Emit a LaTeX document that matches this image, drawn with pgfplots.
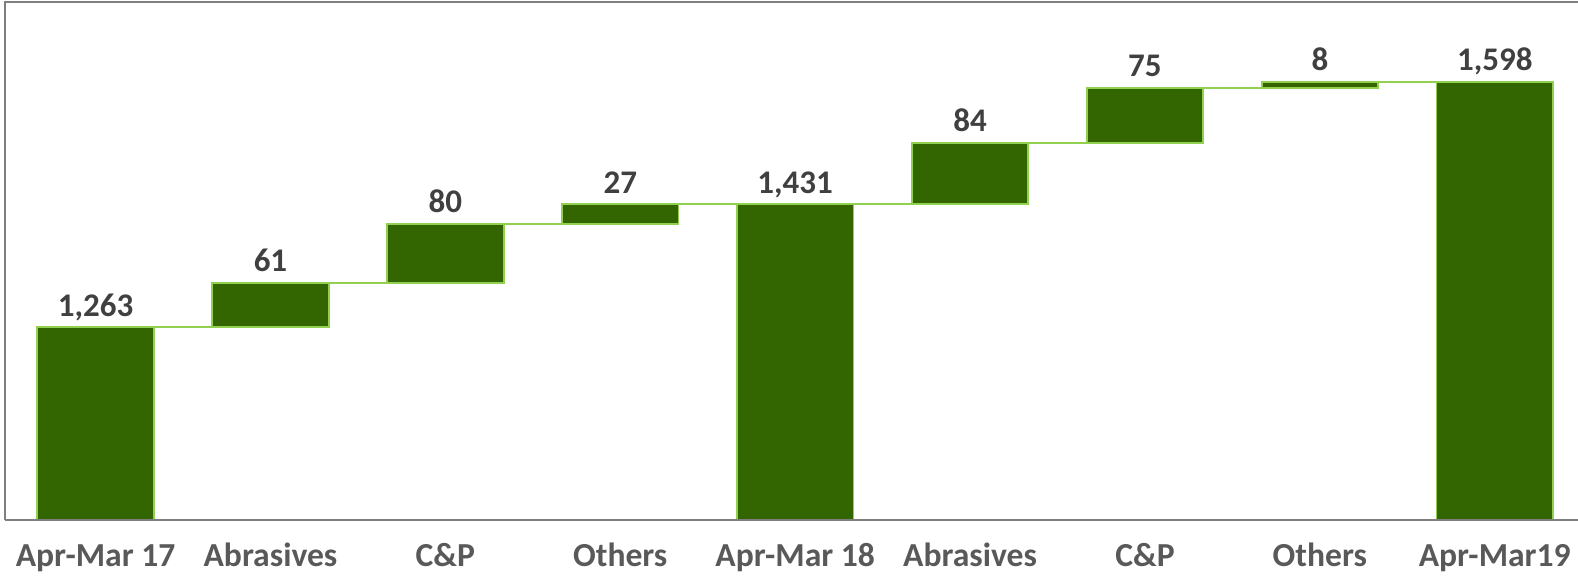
\documentclass[border=0pt]{standalone}
\usepackage{pgfplots}
\pgfplotsset{compat=1.18}
\usepackage{fontspec}
\setmainfont{Carlito}
\definecolor{barGreen}{HTML}{336600}
\definecolor{edgeGreen}{HTML}{92D050}
\definecolor{frameGrey}{HTML}{7F7F7F}
\definecolor{lblGrey}{HTML}{595959}
\definecolor{valGrey}{HTML}{404040}
\pgfplotsset{common/.style={
  at={(0,0)}, anchor=south west,
  scale only axis,
  width=786.5pt, height=259pt,
  xmin=-0.518, xmax=8.476,
  ymin=1000, ymax=1707}}
\begin{document}
\begin{tikzpicture}
\begin{axis}[
  common,
  name=ax,
  axis line style={draw=none},
  ytick=\empty,
  xtick={0,...,8},
  xticklabels={Apr-Mar 17,Abrasives,C\&P,Others,Apr-Mar 18,Abrasives,C\&P,Others,Apr-Mar19},
  major tick length=0pt,
  xticklabel style={anchor=base, yshift=-23.5pt, inner sep=0pt, font=\fontsize{16.8}{20}\selectfont\bfseries, text=lblGrey},
  ybar stacked,
  bar width=0.666,
  clip mode=individual,
  connector/.style={stack plots=false, sharp plot, no markers, edgeGreen, line width=0.9pt, forget plot},
]
% invisible base
\addplot[fill=none, draw=none] coordinates {(0,0) (1,1263) (2,1324) (3,1404) (4,0) (5,1431) (6,1515) (7,1590) (8,0)};
% visible
\addplot[fill=barGreen, draw=edgeGreen, line width=0.9pt]
  coordinates {(0,1263) (1,61) (2,80) (3,27) (4,1431) (5,84) (6,75) (7,8) (8,1598)};
% connectors
\addplot[connector] coordinates {(0.333,1263) (0.667,1263)};
\addplot[connector] coordinates {(1.333,1324) (1.667,1324)};
\addplot[connector] coordinates {(2.333,1404) (2.667,1404)};
\addplot[connector] coordinates {(3.333,1431) (3.667,1431)};
\addplot[connector] coordinates {(4.333,1431) (4.667,1431)};
\addplot[connector] coordinates {(5.333,1515) (5.667,1515)};
\addplot[connector] coordinates {(6.333,1590) (6.667,1590)};
\addplot[connector] coordinates {(7.333,1598) (7.667,1598)};
\end{axis}
% overlay axis for value labels
\begin{axis}[common, hide axis, clip=false]
\addplot[only marks, mark=*, mark options={draw opacity=0, fill opacity=0},
  point meta=explicit symbolic,
  nodes near coords,
  every node near coord/.append style={anchor=base, yshift=5.5pt, inner sep=0pt, font=\fontsize{16.5}{20}\selectfont\bfseries, text=valGrey, text opacity=1}]
  coordinates {(0,1263) [1,263] (1,1324) [61] (2,1404) [80] (3,1431) [27] (4,1431) [1,431] (5,1515) [84] (6,1590) [75] (7,1598) [8] (8,1598) [1,598]};
\end{axis}
\draw[frameGrey, line width=1pt] (ax.south west) -- (ax.north west) -- (ax.north east);
\draw[frameGrey, line width=1.2pt] (ax.south west) -- (ax.south east);
\pgfresetboundingbox
\path[use as bounding box] (-2.5pt,-28.5pt) rectangle (786.5pt,260pt);
\end{tikzpicture}
\end{document}
